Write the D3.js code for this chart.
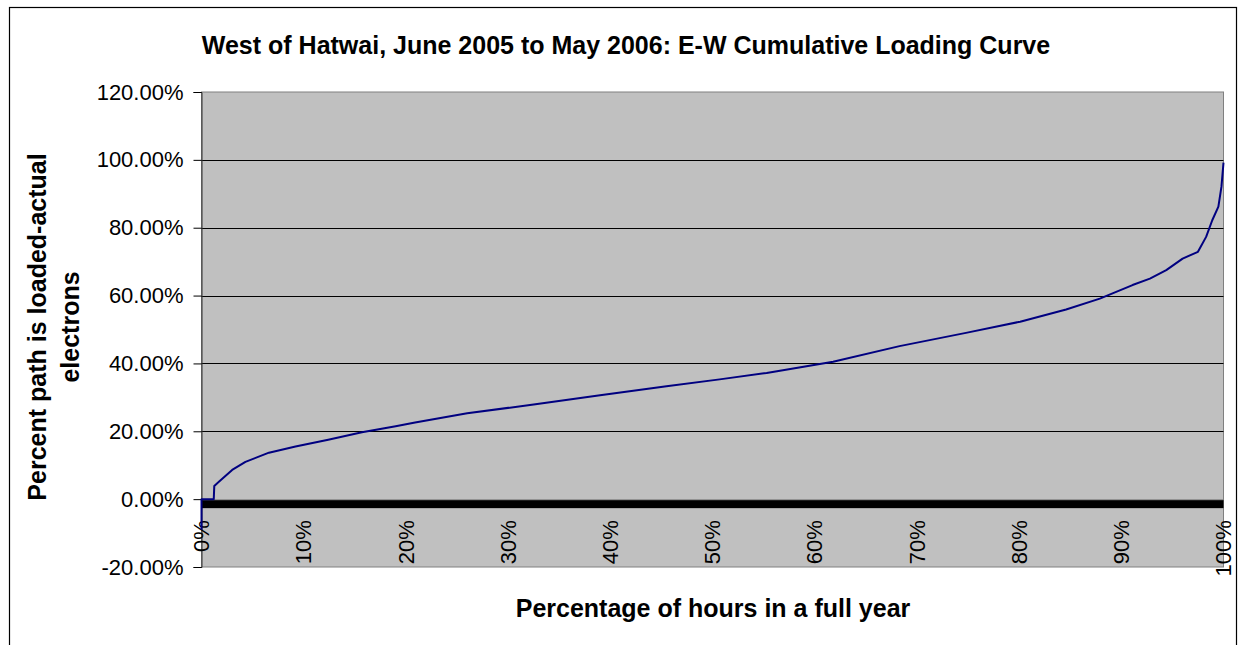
<!DOCTYPE html>
<html>
<head>
<meta charset="utf-8">
<script src="https://cdn.jsdelivr.net/npm/d3@7"></script>
<style>
  body { margin: 0; background: #fff; }
  svg { display: block; font-family: "Liberation Sans", Arial, sans-serif; }
</style>
</head>
<body>
<div id="chart"></div>
<script>
/* chart data */
var chartTitle = "West of Hatwai, June 2005 to May 2006: E-W Cumulative Loading Curve"
var xTitle = "Percentage of hours in a full year"
var yTitleLines = ["Percent path is loaded-actual", "electrons"]

// curve: x = % of hours, y = % loaded
var hoursPct = [0, 0, 1.2, 1.25, 1.7, 3.0, 4.3, 6.6, 9.2, 12.4, 15.7, 19.0, 20.9, 26.0, 32.5, 39.0, 45.5, 50.7,
  55.3, 61.8, 68.3, 74.8, 80.1, 84.6, 87.9, 89.5, 91.1, 92.8, 94.4, 96.0, 97.5, 98.3, 98.9, 99.5, 99.8, 100]
var loadedPct = [-9, 0, 0, 3.9, 5.1, 8.6, 11.0, 13.7, 15.5, 17.5, 19.7, 21.5, 22.6, 25.3, 27.9, 30.6, 33.3, 35.3,
  37.2, 40.5, 45.1, 49.0, 52.3, 55.9, 59.1, 61.1, 63.1, 65.0, 67.5, 70.9, 72.9, 77.3, 82.2, 86.2, 92.1, 99.2]

var yTicks = [-20, 0, 20, 40, 60, 80, 100, 120]
var xTicks = [0, 10, 20, 30, 40, 50, 60, 70, 80, 90, 100]

var width = 1238, height = 645
var plot = { left: 201.5, right: 1223.5, top: 92, bottom: 567 }

var svg = d3.select("#chart").append("svg")
  .attr("width", width)
  .attr("height", height)

// outer chart border (runs off the bottom of the picture)
svg.append("rect")
  .attr("x", 9.5).attr("y", 7.5)
  .attr("width", 1227).attr("height", 700)
  .attr("fill", "#fff").attr("stroke", "#000").attr("stroke-width", 1.2)

var x = d3.scaleLinear().domain([0, 100]).range([plot.left, plot.right])
var y = d3.scaleLinear().domain([-20, 120]).range([plot.bottom, plot.top])

// plot area
svg.append("rect")
  .attr("x", plot.left).attr("y", plot.top)
  .attr("width", plot.right - plot.left).attr("height", plot.bottom - plot.top)
  .attr("fill", "#c0c0c0").attr("stroke", "#808080").attr("stroke-width", 1)

// gridlines
svg.append("g").selectAll("line")
  .data(yTicks.filter(d => d > 0 && d < 120))
  .enter().append("line")
  .attr("x1", plot.left).attr("x2", plot.right)
  .attr("y1", d => Math.round(y(d)) + 0.5).attr("y2", d => Math.round(y(d)) + 0.5)
  .attr("stroke", "#000").attr("stroke-width", 1)

// value axis
var yAxis = d3.axisLeft(y)
  .tickValues(yTicks)
  .tickSize(8)
  .tickPadding(10)
  .tickFormat(d => d.toFixed(2) + "%")

var yg = svg.append("g")
  .attr("transform", `translate(${plot.left},0)`)
  .call(yAxis)
yg.select(".domain").attr("stroke", "#333")
yg.selectAll(".tick line").attr("stroke", "#000")
yg.selectAll("text").attr("font-size", 22).attr("fill", "#000")
  .attr("font-family", "'Liberation Sans', Arial, sans-serif")

// category axis sits on 0%: a dense comb of ticks makes the black band
svg.append("rect")
  .attr("x", plot.left).attr("y", y(0) + 1)
  .attr("width", plot.right - plot.left).attr("height", 8)
  .attr("fill", "#000")
svg.append("line")
  .attr("x1", plot.left).attr("x2", plot.right)
  .attr("y1", y(0) + 0.5).attr("y2", y(0) + 0.5)
  .attr("stroke", "#555").attr("stroke-dasharray", "1,1")

svg.append("g").selectAll("text")
  .data(xTicks)
  .enter().append("text")
  .attr("transform", d => `translate(${x(d)},${y(0) + 21}) rotate(-90)`)
  .attr("text-anchor", "end")
  .attr("dy", "0.35em")
  .attr("font-size", 22)
  .text(d => d + "%")

// loading curve
var line = d3.line()
  .x((d, i) => x(hoursPct[i]))
  .y(d => y(d))

svg.append("path")
  .datum(loadedPct)
  .attr("d", line)
  .attr("fill", "none")
  .attr("stroke", "#000080")
  .attr("stroke-width", 2)
  .attr("stroke-linejoin", "round")

// titles
svg.append("text")
  .attr("x", 626).attr("y", 54)
  .attr("text-anchor", "middle")
  .attr("font-size", 25).attr("font-weight", "bold")
  .text(chartTitle)

svg.append("text")
  .attr("x", 713).attr("y", 617)
  .attr("text-anchor", "middle")
  .attr("font-size", 25).attr("font-weight", "bold")
  .text(xTitle)

var yt = svg.append("text")
  .attr("transform", "translate(46,327) rotate(-90)")
  .attr("text-anchor", "middle")
  .attr("font-size", 25).attr("font-weight", "bold")
yt.selectAll("tspan")
  .data(yTitleLines)
  .enter().append("tspan")
  .attr("x", 0)
  .attr("dy", (d, i) => i == 0 ? 0 : 33)
  .text(d => d)
</script>
</body>
</html>
